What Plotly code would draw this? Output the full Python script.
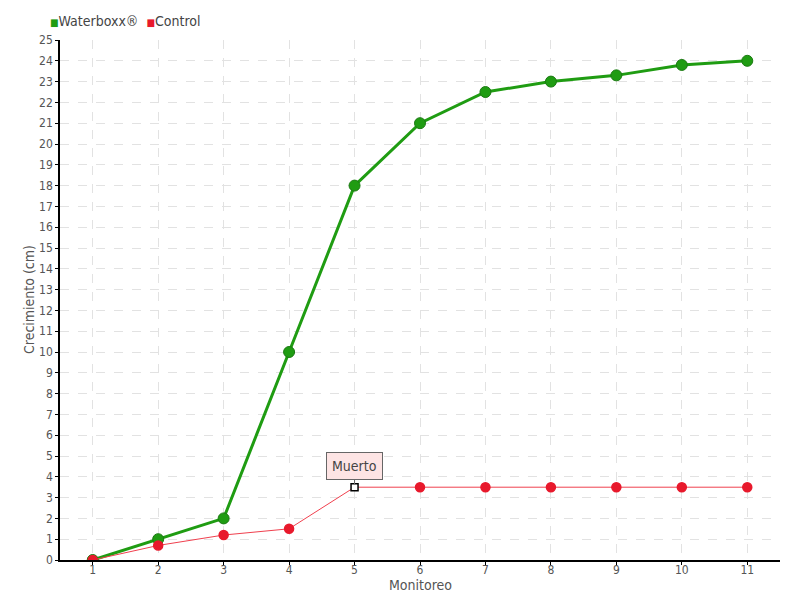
import plotly.graph_objects as go

monitoreo = [1, 2, 3, 4, 5, 6, 7, 8, 9, 10, 11]
waterboxx = [0, 1, 2, 10, 18, 21, 22.5, 23, 23.3, 23.8, 24]
control = [0, 0.7, 1.2, 1.5, 3.5, 3.5, 3.5, 3.5, 3.5, 3.5, 3.5]
y_ticks = list(range(0, 26))
series_names = ["Waterboxx®", "Control"]
axis_titles = ["Monitoreo", "Crecimiento (cm)"]

FONT = "DejaVu Sans Condensed, DejaVu Sans, sans-serif"
GREEN = "#1f9c12"
RED = "#e8192c"

fig = go.Figure()

fig.add_trace(go.Scatter(
    x=monitoreo, y=waterboxx, mode="lines+markers", name=series_names[0],
    line=dict(color=GREEN, width=3),
    marker=dict(size=11, color=GREEN, opacity=1, line=dict(color="#1b7a12", width=1)),
))

ctrl_symbols = ["circle"] * len(control)
ctrl_colors = [RED] * len(control)
ctrl_line_col = [RED] * len(control)
ctrl_sizes = [9] * len(control)
ctrl_symbols[4] = "square"
ctrl_colors[4] = "white"
ctrl_line_col[4] = "black"
ctrl_sizes[4] = 7

fig.add_trace(go.Scatter(
    x=monitoreo, y=control, mode="lines+markers", name=series_names[1],
    line=dict(color="#f0404e", width=1),
    marker=dict(size=ctrl_sizes, color=ctrl_colors, symbol=ctrl_symbols, opacity=1,
                line=dict(color=ctrl_line_col, width=1.5)),
))

legend_text = (f"<span style='color:{GREEN};font-size:10px'>■</span>{series_names[0]}  "
               f"<span style='color:{RED};font-size:10px'>■</span>{series_names[1]}")
fig.add_annotation(
    xref="paper", yref="paper", x=-0.016, y=1.037, xanchor="left", yanchor="middle",
    text=legend_text, showarrow=False,
    font=dict(family=FONT, size=14, color="#444444"),
)

fig.add_annotation(
    xref="paper", yref="paper", x=0.5, y=-0.049, xanchor="center", yanchor="middle",
    text=axis_titles[0], showarrow=False,
    font=dict(family=FONT, size=14, color="#555555"),
)
fig.add_annotation(
    xref="paper", yref="paper", x=-0.043, y=0.5, xanchor="center", yanchor="middle",
    text=axis_titles[1], showarrow=False, textangle=-90,
    font=dict(family=FONT, size=14, color="#555555"),
)

fig.add_annotation(
    x=monitoreo[4], y=control[4], text="Muerto",
    showarrow=True, arrowhead=0, arrowwidth=1, arrowcolor="#666666",
    ax=0, ay=-21, standoff=3,
    bgcolor="#fde4e4", bordercolor="#666666", borderwidth=1, borderpad=5,
    font=dict(family=FONT, size=14, color="#444444"),
)

# page body adds an 8px offset, so the figure is sized 792x592
fig.update_layout(
    width=792, height=592,
    margin=dict(l=52, r=20, t=32, b=40),
    plot_bgcolor="white", paper_bgcolor="white",
    font=dict(family=FONT, size=12, color="#555555"),
    showlegend=False,
    xaxis=dict(
        range=[0.5, 11.5], tickmode="array", tickvals=monitoreo,
        showline=True, linecolor="black", linewidth=1.5,
        ticks="outside", tickcolor="black", ticklen=3,
        showgrid=True, gridcolor="#e2e2e2", griddash="dash",
        zeroline=False, automargin=False, ticklabelstandoff=-5,
        tickfont=dict(size=12, color="#555555"),
    ),
    yaxis=dict(
        range=[0, 25], tickmode="array", tickvals=y_ticks,
        showline=True, linecolor="black", linewidth=1.5,
        ticks="outside", tickcolor="black", ticklen=3,
        showgrid=True, gridcolor="#e2e2e2", griddash="dash",
        zeroline=False, automargin=False,
        tickfont=dict(size=12, color="#555555"),
    ),
)

fig.write_html("out.html")
